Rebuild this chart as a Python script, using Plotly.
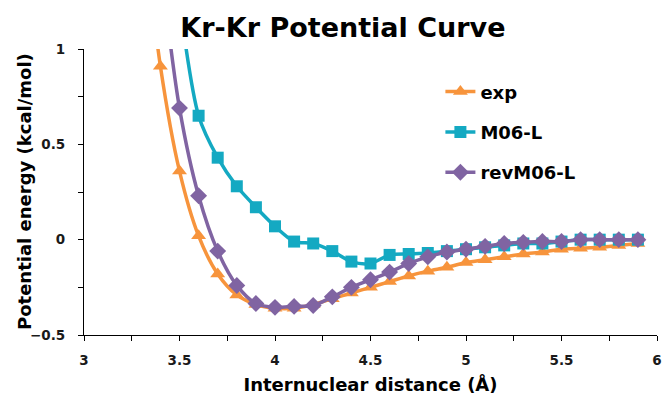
import plotly.graph_objects as go

x_exp = [3.3, 3.4, 3.5, 3.6, 3.7, 3.8, 3.9, 4.0, 4.1, 4.2, 4.3, 4.4, 4.5, 4.6, 4.7, 4.8, 4.9, 5.0, 5.1, 5.2, 5.3, 5.4, 5.5, 5.6, 5.7, 5.8, 5.9]
y_exp = [1.75, 0.91, 0.36, 0.02, -0.18, -0.29, -0.34, -0.36, -0.36, -0.34, -0.31, -0.28, -0.25, -0.22, -0.19, -0.165, -0.145, -0.12, -0.105, -0.09, -0.075, -0.065, -0.05, -0.045, -0.04, -0.03, -0.02]

x_m06 = [3.5, 3.6, 3.7, 3.8, 3.9, 4.0, 4.1, 4.2, 4.3, 4.4, 4.5, 4.6, 4.7, 4.8, 4.9, 5.0, 5.1, 5.2, 5.3, 5.4, 5.5, 5.6, 5.7, 5.8, 5.9]
y_m06 = [1.25, 0.65, 0.43, 0.28, 0.17, 0.07, -0.01, -0.02, -0.06, -0.115, -0.125, -0.08, -0.075, -0.07, -0.06, -0.05, -0.04, -0.03, -0.02, -0.02, -0.01, 0.0, 0.0, 0.0, 0.0]

x_rev = [3.4, 3.5, 3.6, 3.7, 3.8, 3.9, 4.0, 4.1, 4.2, 4.3, 4.4, 4.5, 4.6, 4.7, 4.8, 4.9, 5.0, 5.1, 5.2, 5.3, 5.4, 5.5, 5.6, 5.7, 5.8, 5.9]
y_rev = [1.45, 0.69, 0.23, -0.06, -0.24, -0.335, -0.355, -0.35, -0.345, -0.30, -0.25, -0.21, -0.17, -0.125, -0.09, -0.065, -0.05, -0.035, -0.02, -0.014, -0.01, -0.01, 0.0, 0.0, 0.0, 0.0]

C_EXP = "#F7943C"
C_M06 = "#14A9C2"
C_REV = "#8064A2"

fig = go.Figure()
fig.add_trace(go.Scatter(x=x_exp, y=y_exp, name="exp", mode="lines+markers",
                         line=dict(color=C_EXP, width=3.5, shape="spline", smoothing=0.8),
                         marker=dict(symbol="triangle-up", size=13, color=C_EXP),
                         legendgroup="a"))
fig.add_trace(go.Scatter(x=x_m06, y=y_m06, name="M06-L", mode="lines+markers",
                         line=dict(color=C_M06, width=3.5, shape="spline", smoothing=0.8),
                         marker=dict(symbol="square", size=12, color=C_M06),
                         legendgroup="b"))
fig.add_trace(go.Scatter(x=x_rev, y=y_rev, name="revM06-L", mode="lines+markers",
                         line=dict(color=C_REV, width=3.5, shape="spline", smoothing=0.8),
                         marker=dict(symbol="diamond", size=13, color=C_REV),
                         legendgroup="c"))

font_fam = "DejaVu Sans"
L, R, T, B = 84, 5, 49, 63
W, H = 662, 398
fig.update_layout(
    width=W, height=H,
    margin=dict(l=L, r=R, t=T, b=B),
    paper_bgcolor="white", plot_bgcolor="white",
    title=dict(text="<b>Kr-Kr Potential Curve</b>", x=0.518, xref="container", xanchor="center",
               y=0.93, yref="container", yanchor="middle",
               font=dict(family=font_fam, size=27, color="black")),
    legend=dict(x=0.622, y=0.915, xanchor="left", yanchor="top", bgcolor="rgba(0,0,0,0)",
                font=dict(family=font_fam, size=18, color="black", weight="bold"),
                tracegroupgap=14, itemwidth=30),
    showlegend=True,
    annotations=[dict(text="<b>Potential energy (kcal/mol)</b>", textangle=-90,
                      xref="paper", yref="paper",
                      x=(24 - L) / (W - L - R), y=0.5,
                      xanchor="center", yanchor="middle", showarrow=False,
                      font=dict(family=font_fam, size=18, color="black"))],
)
fig.update_xaxes(range=[3, 6], dtick=0.5, tick0=3, showgrid=False, zeroline=False,
                 automargin=False,
                 showline=True, linecolor="black", linewidth=1.2,
                 ticks="outside", ticklen=5, tickcolor="black",
                 ticklabeloverflow="allow", ticklabelstandoff=8,
                 minor=dict(dtick=0.25, ticks="outside", ticklen=5, tickcolor="black"),
                 tickfont=dict(family=font_fam, size=13.5, color="#1a1a1a", weight="bold"),
                 title=dict(text="<b>Internuclear distance (Å)</b>", standoff=11,
                            font=dict(family=font_fam, size=18, color="black")))
fig.update_yaxes(range=[-0.5, 1], dtick=0.5, tick0=-0.5, showgrid=False, zeroline=False,
                 automargin=False,
                 showline=True, linecolor="black", linewidth=1.2,
                 ticks="outside", ticklen=5, tickcolor="black",
                 ticklabelstandoff=10,
                 minor=dict(dtick=0.25, ticks="outside", ticklen=5, tickcolor="black"),
                 tickfont=dict(family=font_fam, size=13.5, color="#1a1a1a", weight="bold"))

fig.write_html("out.html", config={"displayModeBar": False},
               post_script="document.body.style.margin='0';")
